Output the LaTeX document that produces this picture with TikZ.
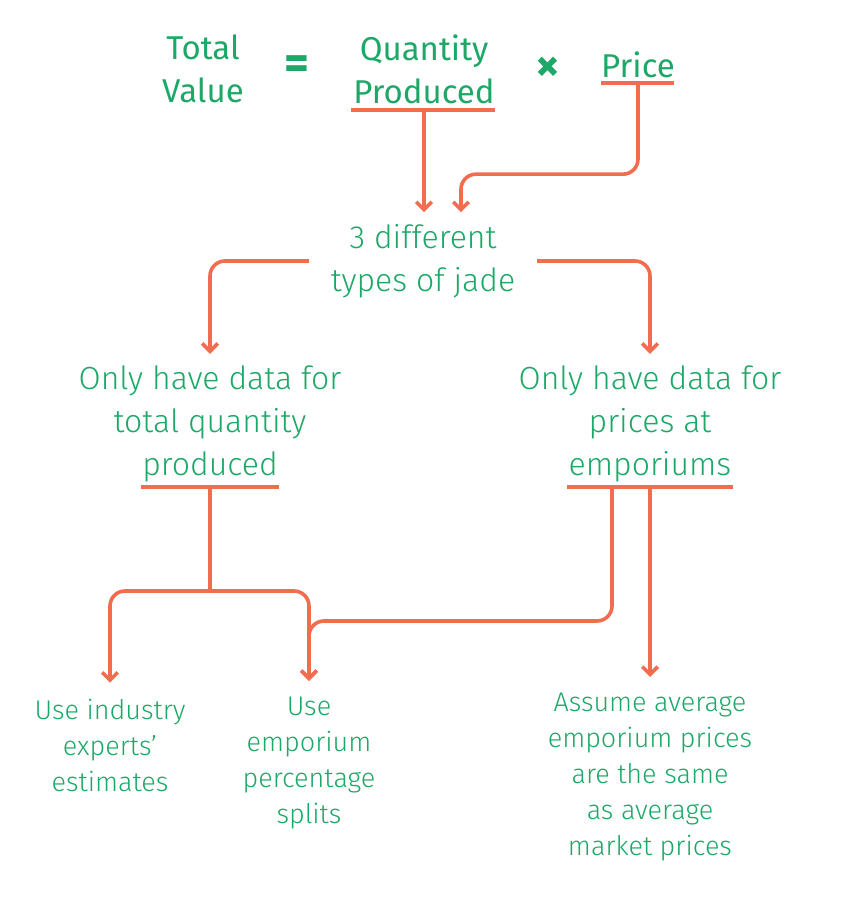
\documentclass[tikz,border=0pt]{standalone}
\usepackage{fontspec}
\setmainfont{Fira Sans}
\newfontfamily\thinfont{Fira Sans Light}
\usetikzlibrary{positioning, calc, arrows.meta}
\definecolor{jadegreen}{RGB}{29,168,104}
\definecolor{flow}{RGB}{242,108,79}

\begin{document}
\begin{tikzpicture}[
	x=1pt,
	y=-1pt,
	head/.style={font=\fontsize{33}{43}\selectfont, text=jadegreen, align=center, inner sep=0pt},
	sign/.style={font=\bfseries\fontsize{48}{48}\selectfont, text=jadegreen, inner sep=0pt},
	mid text/.style={font=\thinfont\fontsize{32}{43}\selectfont, text=jadegreen, align=center, inner sep=0pt, outer xsep=22pt, outer ysep=12pt},
	leaf/.style={font=\thinfont\fontsize{27}{36}\selectfont, text=jadegreen, align=center, inner sep=0pt, outer ysep=16pt},
	uline/.style={draw=flow, line width=3.8pt},
	wire/.style={draw=flow, line width=3.6pt, rounded corners=15pt},
	link/.style={wire, -{Straight Barb[angle=90:11pt, line width=3.6pt]}}
]
\useasboundingbox (0,0) rectangle (842,909);

% the formula
\node[head] (total) at (203,69) {Total\\Value};
\node[sign] (eq) at (297,68) {=};
\node[head] (qty) at (424,69) {Quantity\\Produced};
\node[sign] (times) at (548,69) {×};
\node[head] (price) at (638,65) {Price};

% middle and bottom texts
\node[mid text] (jade) at (423,261) {3 different\\types of jade};
\node[mid text] (qdata) at (210,424) {Only have data for\\total quantity\\produced};
\node[mid text] (pdata) at (650,424) {Only have data for\\prices at\\emporiums};
\node[leaf] (experts) at (110,745) {Use industry\\experts’\\estimates};
\node[leaf] (splits) at (309,763) {Use\\emporium\\percentage\\splits};
\node[leaf] (assume) at (650,777) {Assume average\\emporium prices\\are the same\\as average\\market prices};

% underlines
\draw[uline] ($(qty)+(-73,41)$) -- ($(qty)+(71,41)$);
\draw[uline] ($(price)+(-37,18)$) -- ($(price)+(36,18)$);
\draw[uline] ($(qdata)+(-69,63)$) -- ($(qdata)+(69,63)$);
\draw[uline] ($(pdata)+(-83,63)$) -- ($(pdata)+(83,63)$);
\coordinate (qtyU) at ($(qty)+(0,41)$);
\coordinate (priceU) at ($(price)+(0,18)$);
\coordinate (qdataU) at ($(qdata)+(0,63)$);
\coordinate (qdataJ) at ($(qdata)+(0,167)$);
\coordinate (pdataL) at ($(pdata)+(-38,63)$);
\coordinate (pdataM) at ($(pdata)+(0,63)$);
\coordinate (jadeR) at ($(jade.north)+(38,0)$);

% connectors
\draw[link] (qtyU) -- (qtyU |- jade.north);
\draw[link] (priceU) |- ($(jadeR)+(0,-38)$) -- (jadeR);
\draw[link] (jade.west) -| (qdata.north);
\draw[link] (jade.east) -| (pdata.north);
\draw[wire] (qdataU) -- (qdataJ);
\draw[link] (qdataJ) -| (experts.north);
\draw[link] (qdataJ) -| (splits.north);
\draw[link] (pdataL) |- ($(splits.north)+(0,-60)$) -- (splits.north);
\draw[link] (pdataM) -- (assume.north);

\end{tikzpicture}
\end{document}
